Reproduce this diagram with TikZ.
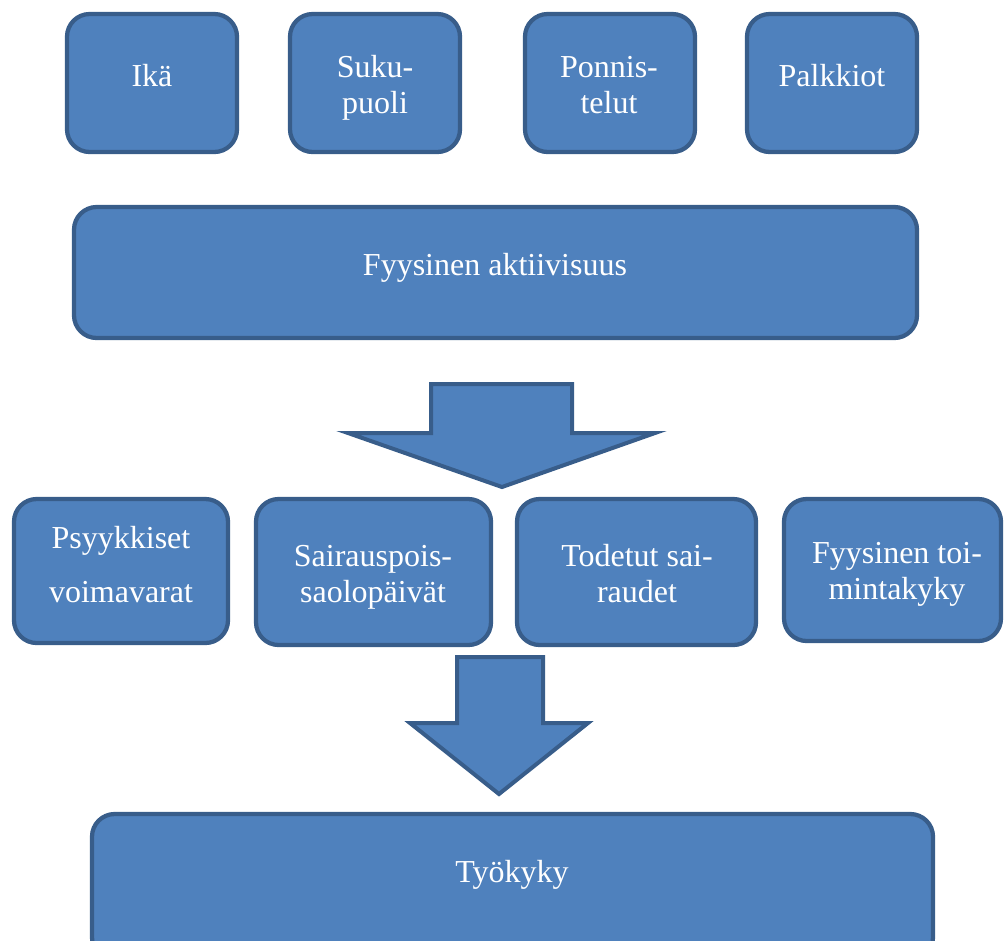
\documentclass[tikz,border=0pt]{standalone}
\usepackage{fontspec}
\setmainfont{Liberation Serif}
\definecolor{boxfill}{HTML}{4F81BD}
\definecolor{boxline}{HTML}{385D8A}
\tikzset{
  box/.style={draw=boxline, fill=boxfill, line width=3.2pt, rounded corners=17pt},
  bigarrow/.style={draw=boxline, fill=boxfill, line width=3pt},
  lbl/.style={text=white, font=\fontsize{24}{27}\selectfont, align=center, anchor=base, inner sep=0pt}
}
\begin{document}
\begin{tikzpicture}[x=.75pt, y=-.75pt]
  \useasboundingbox (0,0) rectangle (1005,940);

  % top row
  \foreach \x in {67,290,525,747}
  \draw[box] (\x,14) rectangle (\x+170,152);
  \node[lbl] (ika) at (152,86) {Ikä};
  \node[lbl] (suku) at (375,113) {Suku-\\puoli};
  \node[lbl] (ponn) at (609,113) {Ponnis-\\telut};
  \node[lbl] (palk) at (832,86) {Palkkiot};

  \draw[box] (74,207) rectangle (917,338);
  \node[lbl] (akt) at (495,275) {Fyysinen aktiivisuus};

  \draw[bigarrow] (431,384) -- (572,384) -- (572,433) -- (655,433)
    -- (502,487) -- (348,433) -- (431,433) -- cycle;

  % middle row
  \draw[box] (14,499) rectangle (228,643);
  \draw[box] (256,499) rectangle (491,645);
  \draw[box] (517,499) rectangle (756,645);
  \draw[box] (784,499) rectangle (1001,641);
  \node[lbl] (psyk) at (121,602) {Psyykkiset\\[13.5pt]voimavarat};
  \node[lbl] (sair) at (373,602) {Sairauspois-\\saolopäivät};
  \node[lbl] (tode) at (637,602) {Todetut sai-\\raudet};
  \node[lbl] (toim) at (897,599) {Fyysinen toi-\\mintakyky};

  \draw[bigarrow] (457,657) -- (543,657) -- (543,723) -- (588,723)
    -- (499,794) -- (410,723) -- (457,723) -- cycle;

  \draw[box] (92,814) rectangle (933,960);
  \node[lbl] (tyok) at (512,882) {Työkyky};
\end{tikzpicture}
\end{document}
